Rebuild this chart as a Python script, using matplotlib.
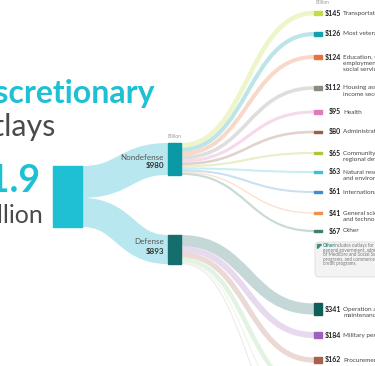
import matplotlib.pyplot as plt
from matplotlib.path import Path
from matplotlib.patches import PathPatch, Rectangle, FancyBboxPatch, Polygon

plt.rcParams['font.family'] = ['Lato', 'DejaVu Sans']

# data (billions of dollars)
total_label = '$1.9'
nondefense_total = 980
defense_total = 893

nd_values = [145, 126, 124, 112, 95, 80, 65, 63, 61, 41, 67]
nd_labels = [
    ['Transportation'],
    ["Most veterans' programs"],
    ['Education, training,', 'employment, and', 'social services'],
    ['Housing assistance and', 'income security'],
    ['Health'],
    ['Administration of justice'],
    ['Community and', 'regional development'],
    ['Natural resources', 'and environment'],
    ['International affairs'],
    ['General science, space,', 'and technology'],
    ['Other'],
]
d_values = [341, 184, 162, 140, 35, 31]
d_labels = [
    ['Operation and', 'maintenance'],
    ['Military personnel'],
    ['Procurement'],
    ['Research and development'],
    ['Military construction'],
    ['Other'],
]

# styles / layout
nd_colors = ['#c6dc45', '#139fac', '#e8733a', '#8b8b82', '#de7db7', '#9a5e4c',
             '#b5c23b', '#36c3dc', '#3d8fd1', '#f29050', '#3f7f70']
d_colors = ['#0f5e58', '#9b63b9', '#a8614d', '#8ccf8a', '#a9dca7', '#c99a8a']
nd_y = [13, 34, 57, 88, 112, 132, 153, 172, 192, 213, 231]
d_y = [309, 335, 360, 392, 420, 448]

k = 61 / (nondefense_total + defense_total)  # px per billion
X_MAIN0, X_MAIN1 = 53, 82
X_MID0, X_MID1 = 168, 181
X_END0, X_END1 = 314, 322
TEAL = '#1fc0d4'

fig = plt.figure(figsize=(3.75, 3.66), dpi=100)
ax = fig.add_axes([0, 0, 1, 1])
ax.set_xlim(0, 375)
ax.set_ylim(366, 0)
ax.axis('off')


def flow(x0, y0, x1, y1, width, color, alpha=1.0, z=1):
    xm = (x0 + x1) / 2
    p = Path([(x0, y0), (xm, y0), (xm, y1), (x1, y1)],
             [Path.MOVETO, Path.CURVE4, Path.CURVE4, Path.CURVE4])
    ax.add_patch(PathPatch(p, fill=False, edgecolor=color, alpha=alpha,
                           lw=width * 0.72, capstyle='butt', zorder=z))


# main node and first level
main_top = 166
nd_h = nondefense_total * k
d_h = defense_total * k
nd_top, d_top = 143, 235
flow(X_MAIN1, main_top + nd_h / 2, X_MID0, nd_top + nd_h / 2, nd_h, '#b8e7ef')
flow(X_MAIN1, main_top + nd_h + d_h / 2, X_MID0, d_top + d_h / 2, d_h, '#b8e7ef')
ax.add_patch(Rectangle((X_MAIN0, main_top), X_MAIN1 - X_MAIN0, nd_h + d_h, color=TEAL, zorder=3))
ax.add_patch(Rectangle((X_MID0, nd_top), X_MID1 - X_MID0, nd_h, color='#0b99a6', zorder=3))
ax.add_patch(Rectangle((X_MID0, d_top), X_MID1 - X_MID0, d_h, color='#136e6d', zorder=3))


def branch(top, values, ys, colors, labels, alpha):
    y = top
    for v, yc, c, lab in zip(values, ys, colors, labels):
        h = v * k
        flow(X_MID1, y + h / 2, X_END0, yc, h, c, alpha=alpha)
        y += h
        ax.add_patch(Rectangle((X_END0, yc - h / 2), X_END1 - X_END0, h, color=c, zorder=3))
        ax.text(341, yc, '$%d' % v, ha='right', va='center', fontsize=5,
                fontweight='bold', color='#222')
        for i, line in enumerate(lab):
            ax.text(343, yc + i * 6.2, line, ha='left', va='center',
                    fontsize=4.6, color='#444')


branch(nd_top, nd_values, nd_y, nd_colors, nd_labels, 0.28)
branch(d_top, d_values, d_y, d_colors, d_labels, 0.24)

# titles
ax.text(155, 103, 'Discretionary', ha='right', va='baseline', fontsize=23,
        fontweight='bold', color=TEAL)
ax.text(56, 136, 'outlays', ha='right', va='baseline', fontsize=22,
        fontweight='normal', color='#4a4a4a')
ax.text(41, 192, total_label, ha='right', va='baseline', fontsize=27,
        fontweight='bold', color=TEAL)
ax.text(43, 223, 'trillion', ha='right', va='baseline', fontsize=18,
        fontweight='normal', color='#4a4a4a')

ax.text(164, 157, 'Nondefense', ha='right', va='center', fontsize=5.8, color='#555')
ax.text(164, 166, '$%d' % nondefense_total, ha='right', va='center', fontsize=5.8,
        fontweight='bold', color='#333')
ax.text(164, 242, 'Defense', ha='right', va='center', fontsize=5.8, color='#555')
ax.text(164, 252, '$%d' % defense_total, ha='right', va='center', fontsize=5.8,
        fontweight='bold', color='#333')
ax.text(174.5, 137, 'Billion', ha='center', va='center', fontsize=3.6, color='#999')
ax.text(322, 2, 'Billion', ha='center', va='center', fontsize=3.6, color='#999')

# note box
ax.add_patch(FancyBboxPatch((315, 242), 90, 35, boxstyle='round,pad=0,rounding_size=4',
                            facecolor='#f3f3f3', edgecolor='#dcdcdc', lw=0.6, zorder=2))
ax.add_patch(Polygon([(317.5, 244.5), (321.5, 244.5), (317.5, 248.5)], color='#3d8d82', zorder=3))
note = ['general government, administration', 'of Medicare and Social Security',
        'programs, and commerce and housing', 'credit programs.']
ax.text(323, 245.5, 'Other', ha='left', va='center', fontsize=3.3,
        fontweight='bold', color='#2f8f83', zorder=4)
ax.text(334, 245.5, 'includes outlays for', ha='left', va='center', fontsize=3.3,
        color='#777', zorder=4)
for i, line in enumerate(note):
    ax.text(323, 250.2 + i * 4.6, line, ha='left', va='center', fontsize=3.3,
            color='#777', zorder=4)

fig.savefig('out.png', dpi=100)
